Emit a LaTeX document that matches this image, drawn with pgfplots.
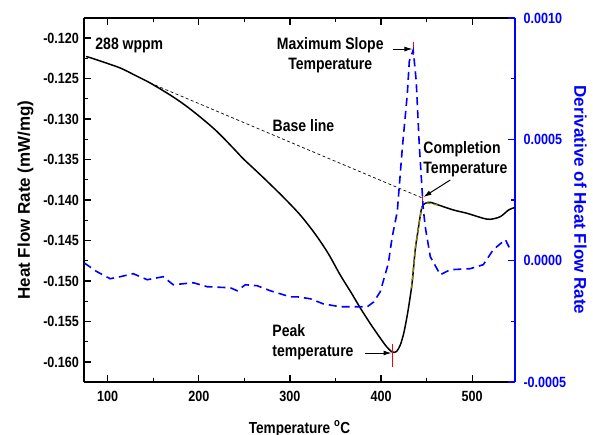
\documentclass[border=0pt]{standalone}
\usepackage{fontspec}
\setmainfont{Liberation Sans}[FakeStretch=0.85]
\newfontfamily\ylabfont{Liberation Sans}
\usepackage{pgfplots}
\pgfplotsset{compat=1.18}
\usetikzlibrary{arrows.meta}

\newcommand{\tickfont}{\fontsize{14.8bp}{14.8bp}\selectfont\bfseries}
\newcommand{\notefont}{\fontsize{16.5bp}{20bp}\selectfont\bfseries}

\begin{document}
\begin{tikzpicture}
\useasboundingbox (-84bp,-53bp) rectangle (509bp,382bp);
% left axis: heat flow
\begin{axis}[
  scale only axis, width=431bp, height=364bp,
  xmin=74, xmax=547, ymin=-0.16247, ymax=-0.11753,
  axis x line*=box, axis y line*=left,
  axis line style={line width=1.6bp},
  tick align=inside, xtick pos=both, ytick pos=left,
  major tick length=7bp, minor tick length=4.5bp,
  every tick/.style={black, line width=1.2bp},
  xtick={100,200,300,400,500}, minor xtick={150,250,350,450},
  ytick={-0.160,-0.155,-0.150,-0.145,-0.140,-0.135,-0.130,-0.125,-0.120},
  minor y tick num=1,
  scaled y ticks=false,
  /pgf/number format/assume math mode=true,
  xticklabel style={font=\tickfont, yshift=-6bp},
  yticklabel style={font=\tickfont, xshift=-1.5bp,
    /pgf/number format/.cd, fixed, fixed zerofill, precision=3},
  every axis x label/.style={at={(axis description cs:0.5,-0.1401)}, anchor=base},
  xlabel={\fontsize{16bp}{16bp}\selectfont\bfseries Temperature \textsuperscript{o}C},
  every axis y label/.style={at={(axis description cs:-0.1357,0.5)}, rotate=90, anchor=center},
  ylabel={\ylabfont\fontsize{17bp}{17bp}\selectfont\bfseries Heat Flow Rate (mW/mg)},
  clip=false,
]
% heat flow curve
\addplot[black, line width=1.5bp, smooth] coordinates {
  (76,-0.12230) (78.6,-0.12235) (91.8,-0.12284) (113.7,-0.12370) (130,-0.12460)
  (146.7,-0.12556) (168.6,-0.12704) (185,-0.12830) (201.5,-0.12975) (220,-0.13155)
  (237.8,-0.13360) (248.7,-0.13490) (262,-0.13630) (275.1,-0.13770) (292.6,-0.13963)
  (311.3,-0.14185) (327.7,-0.14420) (342,-0.14660) (355.2,-0.14926) (367,-0.15140)
  (377.2,-0.15333) (389,-0.15540) (399.1,-0.15704) (406,-0.15810) (412.3,-0.15877)
  (417,-0.15870) (421.1,-0.15790) (425,-0.15640) (428.8,-0.15420) (431.5,-0.15230)
  (434.2,-0.15012) (437.5,-0.14617) (440,-0.14420) (442.3,-0.14247) (444.9,-0.14086)
  (448.5,-0.14041) (454.0,-0.14028) (463.1,-0.14062) (479.3,-0.14123) (494.3,-0.14164)
  (512.2,-0.14226) (519.9,-0.14238) (530.8,-0.14206) (540,-0.14123) (546,-0.14095)
};
% olive tangent segment
\addplot[olive, line width=1.3bp, dash pattern=on 5bp off 3bp, smooth] coordinates {
  (433.5,-0.15090) (437.5,-0.14617) (440,-0.14420) (442.3,-0.14247) (444.9,-0.14086)
};
\addplot[olive, line width=1.3bp, dash pattern=on 4bp off 3bp] coordinates {
  (450,-0.14035) (462,-0.14062)
};
% base line
\addplot[black, line width=0.7bp, dash pattern=on 3bp off 2.5bp] coordinates {
  (146.7,-0.12556) (445.2,-0.13975)
};
% markers
\addplot[red, line width=0.8bp] coordinates {(435.3,-0.12049) (435.3,-0.12210)};
\addplot[red, line width=0.8bp] coordinates {(412.3,-0.15778) (412.3,-0.16062)};
\addplot[red, line width=0.8bp] coordinates {(445.2,-0.13901) (445.2,-0.14086)};
% arrows
\addplot[black, line width=1bp, -{Latex[length=8bp,width=5bp]}] coordinates {(413.4,-0.12136) (434.5,-0.12136)};
\addplot[black, line width=1bp, -{Latex[length=8bp,width=5bp]}] coordinates {(382.7,-0.15889) (411.5,-0.15889)};
\addplot[black, line width=1bp, -{Latex[length=8bp,width=5bp]}] coordinates {(476,-0.13753) (446.5,-0.13963)};
% notes
\node[font=\notefont, anchor=west, inner sep=0pt] at (axis cs:86.3,-0.12086) {288 wppm};
\node[font=\notefont, align=center, inner sep=0pt] at (axis cs:344.2,-0.1221) {Maximum Slope\\Temperature};
\node[font=\notefont, inner sep=0pt] at (axis cs:314.9,-0.13086) {Base line};
\node[font=\notefont, align=left, anchor=west, inner sep=0pt] at (axis cs:446.3,-0.13494) {Completion\\Temperature};
\node[font=\notefont, align=left, anchor=west, inner sep=0pt] at (axis cs:280.6,-0.15753) {Peak\\temperature};
\end{axis}
% right axis: derivative
\begin{axis}[
  scale only axis, width=431bp, height=364bp,
  xmin=74, xmax=547, ymin=-0.0005, ymax=0.001,
  axis x line=none, axis y line*=right,
  axis line style={blue, line width=1.6bp},
  tick align=inside, ytick pos=right,
  major tick length=7bp, minor tick length=4.5bp,
  every tick/.style={blue, line width=1.2bp},
  ytick={-0.0005,0,0.0005,0.001}, minor y tick num=1,
  scaled y ticks=false,
  /pgf/number format/assume math mode=true,
  yticklabel style={font=\tickfont, text=blue, xshift=5bp,
    /pgf/number format/.cd, fixed, fixed zerofill, precision=4},
  every axis y label/.style={at={(axis description cs:1.152,0.5)}, rotate=-90, anchor=center},
  ylabel={\ylabfont\fontsize{17bp}{17bp}\selectfont\bfseries\color{blue}Derivative of Heat Flow Rate},
]
\addplot[blue, line width=1.6bp, dash pattern=on 8bp off 5bp] coordinates {
  (74.5,-0.0000100) (88,-0.0000450) (102.7,-0.0000744) (113.7,-0.0000661) (128,-0.0000537)
  (143.4,-0.0000785) (160.9,-0.0000661) (171.9,-0.0000992) (193.9,-0.0000909)
  (209.3,-0.0001074) (234.5,-0.0001116) (242.2,-0.0001240) (251,-0.0000992)
  (264.1,-0.0001033) (278.4,-0.0001240) (300.3,-0.0001490) (308,-0.0001490)
  (322.3,-0.0001570) (336.6,-0.0001780) (355.2,-0.0001900) (384.9,-0.0001900)
  (392,-0.0001700) (399.1,-0.0001280) (407.9,-0.0000124) (412.3,0.0000992)
  (417.8,0.0002020) (423.3,0.0004630) (428.8,0.0006860) (431,0.0008220)
  (435.3,0.0008680) (438.6,0.0007400) (441.9,0.0004790) (446.3,0.0002150)
  (448.5,0.0001400) (454,0.0000165) (465,-0.0000579) (476,-0.0000372)
  (497.9,-0.0000331) (512.2,-0.0000165) (523.2,0.0000455) (536.4,0.0000868)
  (541.8,0.0000455)
};
\end{axis}
\end{tikzpicture}
\end{document}
